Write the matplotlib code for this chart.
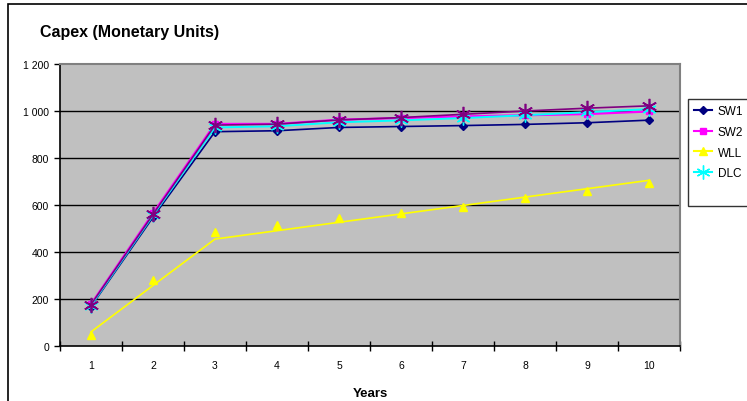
import matplotlib
matplotlib.use("Agg")
import matplotlib.pyplot as plt
from matplotlib.lines import Line2D
from matplotlib.patches import Rectangle

plt.rcParams['font.family'] = ['Liberation Sans', 'DejaVu Sans']

# ---- data ----
years = [1, 2, 3, 4, 5, 6, 7, 8, 9, 10]
sw1 = [168, 548, 912, 916, 930, 934, 938, 943, 950, 961]
sw2 = [178, 565, 945, 945, 963, 970, 977, 982, 987, 998]
dlc = [172, 556, 930, 935, 952, 960, 970, 982, 995, 1008]
extra = [176, 560, 940, 944, 962, 972, 986, 1000, 1012, 1022]
wll_pts = [45, 280, 485, 515, 543, 565, 592, 628, 660, 695]
wll_line_x = [1, 3, 10]
wll_line_y = [60, 455, 705]
yticks = [0, 200, 400, 600, 800, 1000, 1200]
ytick_labels = ["0", "200", "400", "600", "800", "1 000", "1 200"]

W, H = 747, 402
fig = plt.figure(figsize=(W / 100, H / 100), dpi=100)
fig.patch.set_facecolor("white")

# outer chart border (runs off the right/bottom edges)
fig.patches.append(Rectangle((8 / W, -0.05), 1.1, 1 - 5 / H + 0.05,
                             transform=fig.transFigure, fill=False,
                             edgecolor="black", linewidth=1.2))

ax = fig.add_axes([60 / W, 1 - 347 / H, 620 / W, 282 / H])
ax.set_facecolor("#C0C0C0")
ax.set_xlim(0.5, 10.5)
ax.set_ylim(0, 1200)

for v in yticks[1:-1]:
    ax.axhline(v, color="black", linewidth=1.0, zorder=1)

ax.plot(years, sw1, color="#000080", marker="D", markersize=4, linewidth=1.2, zorder=3)
ax.plot(years, sw2, color="#FF00FF", marker="s", markersize=5, linewidth=1.6, zorder=3)
ax.plot(years, dlc, color="#00FFFF", marker=(6, 2, 0), markersize=10,
        markeredgewidth=1, linewidth=1.4, zorder=3)
ax.plot(years, extra, color="#800080", marker=(6, 2, 0), markersize=11,
        markeredgewidth=1.2, linewidth=1.2, zorder=4)
ax.plot(wll_line_x, wll_line_y, color="#FFFF00", linewidth=1.2, zorder=2)
ax.plot(years, wll_pts, linestyle="none", color="#FFFF00", marker="^", markersize=6, zorder=2)

ax.set_yticks(yticks)
ax.set_yticklabels(ytick_labels, fontsize=7.5)
ax.set_xticks(years)
ax.set_xticklabels([str(y) for y in years], fontsize=7.5)
ax.set_xticks([x + 0.5 for x in range(0, 11)], minor=True)
ax.tick_params(axis="x", which="major", length=0, pad=10)
ax.tick_params(axis="x", which="minor", length=7, width=1, direction="inout")
ax.tick_params(axis="y", length=4, width=1, pad=4)

for side in ["top", "right"]:
    ax.spines[side].set_color("#808080")
    ax.spines[side].set_linewidth(1.5)
for side in ["left", "bottom"]:
    ax.spines[side].set_color("black")
    ax.spines[side].set_linewidth(1.2)

ax.set_xlabel("Years", fontsize=9.5, fontweight="bold", labelpad=12)

fig.text(40 / W, 1 - 33 / H, "Capex (Monetary Units)", fontsize=11.5,
         fontweight="bold", va="center", ha="left")

handles = [
    Line2D([], [], color="#000080", marker="D", markersize=4),
    Line2D([], [], color="#FF00FF", marker="s", markersize=5),
    Line2D([], [], color="#FFFF00", marker="^", markersize=6),
    Line2D([], [], color="#00FFFF", marker=(6, 2, 0), markersize=10),
    Line2D([], [], color="none"),
]
labels = ["SW1", "SW2", "WLL", "DLC", " "]
leg = fig.legend(handles, labels, loc="upper left",
                 bbox_to_anchor=(688 / W, 1 - 100 / H), fontsize=8.5,
                 frameon=True, fancybox=False, edgecolor="black",
                 handlelength=1.5, handletextpad=0.5, borderpad=0.5,
                 borderaxespad=0, labelspacing=0.75)
leg.get_frame().set_linewidth(1.0)

fig.savefig("out.png", dpi=100)
